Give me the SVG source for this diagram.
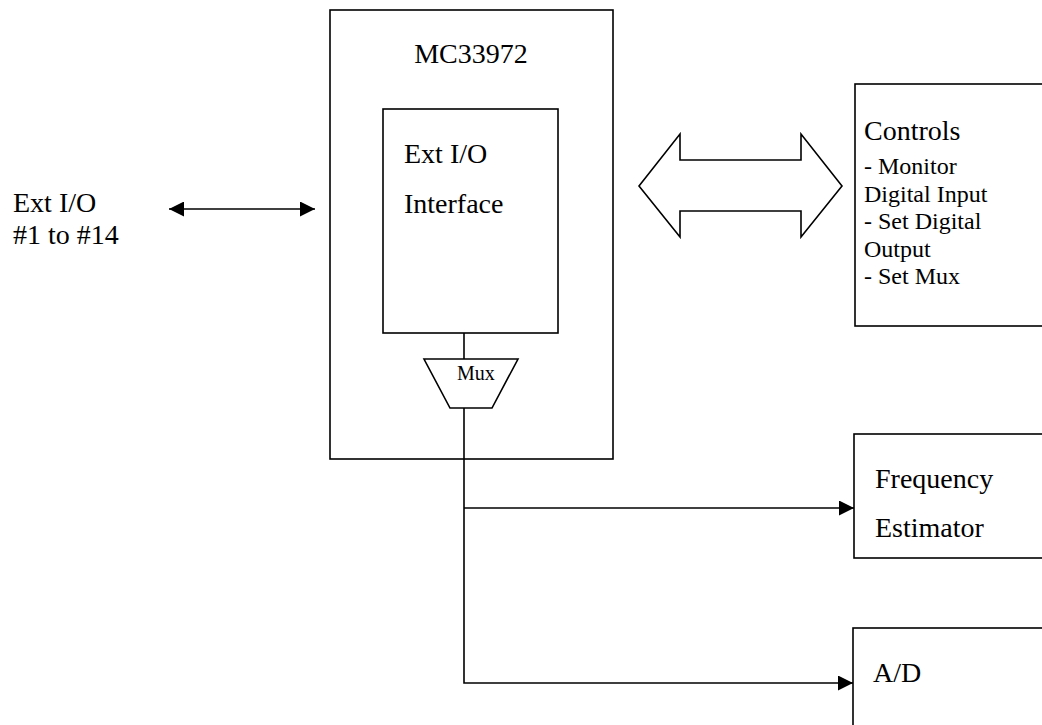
<svg xmlns="http://www.w3.org/2000/svg" width="1042" height="725" viewBox="0 0 1042 725">
<defs>
<style>
.box{fill:none;stroke:#000;stroke-width:1.6}
.ln{fill:none;stroke:#000;stroke-width:1.6}
.t{font-family:"Liberation Serif","Times New Roman",serif;fill:#000;font-size:28px}
.s{font-size:24px}
.m{font-size:20px}
</style>
<marker id="ah" viewBox="0 0 10 10" refX="10" refY="5" markerWidth="15" markerHeight="15" markerUnits="userSpaceOnUse" orient="auto-start-reverse">
<path d="M0,0 L10,5 L0,10 Z" fill="#000"/>
</marker>
</defs>
<rect width="1042" height="725" fill="#fff"/>
<g id="ext-io-label">
<text class="t" x="13" y="212">Ext I/O</text>
<text class="t" x="13" y="244">#1 to #14</text>
</g>
<g id="mc33972">
<rect class="box" x="330" y="10" width="283" height="449"/>
<text class="t" x="471" y="63" text-anchor="middle">MC33972</text>
</g>
<g id="ext-io-interface">
<rect class="box" x="383" y="109" width="175" height="224"/>
<text class="t" x="404" y="163">Ext I/O</text>
<text class="t" x="404" y="213">Interface</text>
</g>
<g id="mux">
<polygon class="box" points="424,359 518,359 492,408 450,408"/>
<text class="t m" x="457" y="380">Mux</text>
</g>
<g id="controls">
<rect class="box" x="855" y="84" width="200" height="242"/>
<text class="t" x="864" y="140">Controls</text>
<text class="t s" x="864" y="174">- Monitor</text>
<text class="t s" x="864" y="202">Digital Input</text>
<text class="t s" x="864" y="229">- Set Digital</text>
<text class="t s" x="864" y="257">Output</text>
<text class="t s" x="864" y="284">- Set Mux</text>
</g>
<g id="frequency-estimator">
<rect class="box" x="854" y="434" width="200" height="124"/>
<text class="t" x="875" y="488">Frequency</text>
<text class="t" x="875" y="537">Estimator</text>
</g>
<g id="ad">
<rect class="box" x="853" y="628" width="200" height="120"/>
<text class="t" x="873" y="682">A/D</text>
</g>
<g id="connectors">
<line class="ln" x1="169" y1="209" x2="315" y2="209" marker-start="url(#ah)" marker-end="url(#ah)"/>
<polygon class="box" points="639,186 680,134 680,160 801,160 801,134 842,186 801,237 801,211 680,211 680,237"/>
<line class="ln" x1="464" y1="333" x2="464" y2="359"/>
<polyline class="ln" points="464,408 464,683 853,683" marker-end="url(#ah)"/>
<line class="ln" x1="464" y1="508" x2="854" y2="508" marker-end="url(#ah)"/>
</g>
</svg>
